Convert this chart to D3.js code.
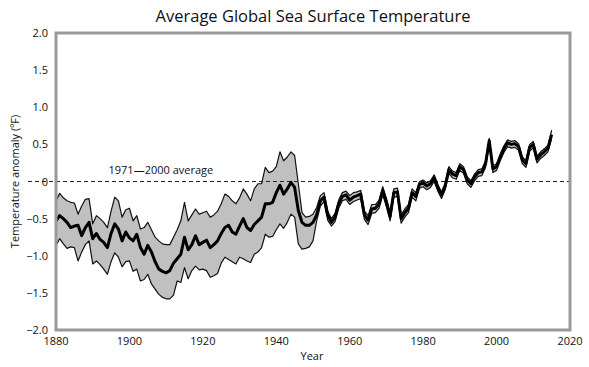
<!DOCTYPE html>
<html>
<head>
<meta charset="utf-8">
<script src="https://cdn.jsdelivr.net/npm/d3@7"></script>
<style>
  body { margin: 0; background: #fff; }
  text { font-family: "Open Sans", "Noto Sans", sans-serif; fill: #111; }
</style>
</head>
<body>
<div id="chart"></div>
<script>
// years 1880..2015, anomaly in degF relative to 1971-2000
const firstYear = 1880;

const center = [
  -0.53, -0.46, -0.50, -0.55, -0.62, -0.60, -0.59, -0.73, -0.62, -0.55,
  -0.77, -0.70, -0.78, -0.82, -0.89, -0.70, -0.57, -0.64, -0.80, -0.68,
  -0.76, -0.80, -0.71, -0.89, -0.98, -0.86, -0.95, -1.08, -1.18, -1.21,
  -1.23, -1.20, -1.10, -1.04, -0.98, -0.75, -0.92, -0.85, -0.73, -0.85,
  -0.82, -0.79, -0.89, -0.85, -0.80, -0.70, -0.62, -0.59, -0.68, -0.71,
  -0.60, -0.50, -0.62, -0.66, -0.58, -0.53, -0.48, -0.30, -0.30, -0.28,
  -0.15, -0.05, -0.17, -0.10, -0.01, -0.08, -0.39, -0.55, -0.59, -0.59,
  -0.55, -0.45, -0.26, -0.21, -0.45, -0.55, -0.48, -0.30, -0.20, -0.18,
  -0.25, -0.21, -0.19, -0.17, -0.45, -0.52, -0.37, -0.36, -0.30, -0.12,
  -0.28, -0.47, -0.15, -0.14, -0.50, -0.42, -0.36, -0.15, -0.20, -0.04,
  -0.02, -0.06, -0.03, 0.05, -0.08, -0.18, -0.06, 0.16, 0.10, 0.08,
  0.20, 0.16, 0.02, -0.03, 0.06, 0.12, 0.13, 0.24, 0.55, 0.17,
  0.20, 0.33, 0.44, 0.52, 0.50, 0.51, 0.47, 0.29, 0.24, 0.46,
  0.50, 0.30, 0.36, 0.40, 0.45, 0.63
];

const upper = [
  -0.26, -0.16, -0.22, -0.26, -0.28, -0.29, -0.44, -0.33, -0.24, -0.23,
  -0.57, -0.46, -0.50, -0.55, -0.62, -0.40, -0.21, -0.26, -0.48, -0.38,
  -0.36, -0.53, -0.46, -0.64, -0.62, -0.55, -0.65, -0.75, -0.80, -0.84,
  -0.85, -0.85, -0.75, -0.65, -0.53, -0.28, -0.53, -0.45, -0.37, -0.44,
  -0.42, -0.40, -0.48, -0.45, -0.40, -0.30, -0.17, -0.20, -0.26, -0.30,
  -0.22, -0.10, -0.17, -0.26, -0.10, -0.03, -0.03, 0.19, 0.12, 0.14,
  0.20, 0.40, 0.28, 0.33, 0.40, 0.35, -0.03, -0.42, -0.48, -0.47,
  -0.44, -0.35, -0.19, -0.15, -0.40, -0.50, -0.43, -0.25, -0.15, -0.13,
  -0.19, -0.15, -0.14, -0.12, -0.40, -0.46, -0.31, -0.31, -0.25, -0.07,
  -0.23, -0.42, -0.10, -0.09, -0.45, -0.37, -0.31, -0.10, -0.15, 0.00,
  0.02, -0.02, 0.01, 0.09, -0.04, -0.14, -0.02, 0.20, 0.14, 0.12,
  0.24, 0.20, 0.06, 0.01, 0.10, 0.16, 0.17, 0.28, 0.58, 0.21,
  0.24, 0.37, 0.48, 0.56, 0.54, 0.55, 0.51, 0.33, 0.28, 0.50,
  0.54, 0.34, 0.40, 0.44, 0.49, 0.69
];

const lower = [
  -0.86, -0.77, -0.84, -0.90, -0.88, -0.89, -1.07, -0.95, -0.85, -0.80,
  -1.11, -1.07, -1.12, -1.18, -1.25, -1.08, -0.96, -1.02, -1.15, -1.08,
  -1.07, -1.21, -1.18, -1.34, -1.32, -1.25, -1.38, -1.45, -1.52, -1.56,
  -1.58, -1.58, -1.53, -1.34, -1.36, -1.16, -1.31, -1.20, -1.14, -1.19,
  -1.18, -1.20, -1.29, -1.27, -1.24, -1.10, -1.02, -1.05, -1.08, -1.11,
  -1.02, -1.04, -1.07, -1.09, -0.98, -0.95, -0.89, -0.71, -0.75, -0.74,
  -0.65, -0.57, -0.63, -0.55, -0.44, -0.48, -0.84, -0.91, -0.90, -0.88,
  -0.80, -0.53, -0.33, -0.27, -0.52, -0.60, -0.54, -0.36, -0.26, -0.24,
  -0.31, -0.27, -0.25, -0.23, -0.51, -0.58, -0.43, -0.42, -0.36, -0.18,
  -0.34, -0.53, -0.21, -0.20, -0.56, -0.48, -0.42, -0.21, -0.26, -0.09,
  -0.07, -0.11, -0.08, 0.00, -0.13, -0.23, -0.11, 0.11, 0.05, 0.03,
  0.15, 0.11, -0.03, -0.08, 0.01, 0.07, 0.08, 0.19, 0.50, 0.12,
  0.15, 0.28, 0.39, 0.47, 0.45, 0.46, 0.42, 0.24, 0.19, 0.41,
  0.45, 0.25, 0.31, 0.35, 0.40, 0.58
];

const yTicks = [2.0, 1.5, 1.0, 0.5, 0, -0.5, -1.0, -1.5, -2.0];
const yTickLabels = ["2.0", "1.5", "1.0", "0.5", "0", "\u22120.5", "\u22121.0", "\u22121.5", "\u22122.0"];
const xTicks = [1880, 1900, 1920, 1940, 1960, 1980, 2000, 2020];

const data = center.map(function (c, i) {
  return { year: firstYear + i, mid: c, hi: upper[i], lo: lower[i] };
});

const width = 589, height = 367;
const margin = { top: 33, right: 19, bottom: 37, left: 56 };

const svg = d3.select("#chart").append("svg")
  .attr("width", width)
  .attr("height", height);

const x = d3.scaleLinear().domain([1880, 2020]).range([margin.left, width - margin.right]);
const y = d3.scaleLinear().domain([-2, 2]).range([height - margin.bottom, margin.top]);

// title
svg.append("text")
  .attr("x", 313).attr("y", 22)
  .attr("text-anchor", "middle")
  .style("font-size", "16.5px")
  .text("Average Global Sea Surface Temperature");

// uncertainty band
svg.append("path")
  .datum(data)
  .attr("fill", "#c0c0c0")
  .attr("d", d3.area()
    .x(function (d) { return x(d.year); })
    .y0(function (d) { return y(d.lo); })
    .y1(function (d) { return y(d.hi); }));

["hi", "lo"].forEach(function (k) {
  svg.append("path")
    .datum(data)
    .attr("fill", "none")
    .attr("stroke", "#111")
    .attr("stroke-width", 1.2)
    .attr("stroke-linejoin", "round")
    .attr("d", d3.line()
      .x(function (d) { return x(d.year); })
      .y(function (d) { return y(d[k]); }));
});

// 1971-2000 average reference line
svg.append("line")
  .attr("x1", 28).attr("x2", x(2020))
  .attr("y1", y(0)).attr("y2", y(0))
  .attr("stroke", "#222")
  .attr("stroke-width", 1)
  .attr("stroke-dasharray", "4,3");

svg.append("text")
  .attr("x", x(1894.3)).attr("y", y(0) - 8)
  .style("font-size", "11px")
  .text("1971\u20142000 average");

// central estimate
svg.append("path")
  .datum(data)
  .attr("fill", "none")
  .attr("stroke", "#000")
  .attr("stroke-width", 3)
  .attr("stroke-linejoin", "round")
  .attr("d", d3.line()
    .x(function (d) { return x(d.year); })
    .y(function (d) { return y(d.mid); }));

// frame
svg.append("rect")
  .attr("x", x(1880)).attr("y", y(2))
  .attr("width", x(2020) - x(1880))
  .attr("height", y(-2) - y(2))
  .attr("fill", "none")
  .attr("stroke", "#999")
  .attr("stroke-width", 3);

// y tick labels
svg.selectAll(".ylab")
  .data(yTicks)
  .enter().append("text")
  .attr("class", "ylab")
  .attr("x", 48)
  .attr("y", function (d) { return y(d) + 4; })
  .attr("text-anchor", "end")
  .style("font-size", "11px")
  .text(function (d, i) { return yTickLabels[i]; });

// x tick labels
svg.selectAll(".xlab")
  .data(xTicks)
  .enter().append("text")
  .attr("class", "xlab")
  .attr("x", function (d) { return x(d); })
  .attr("y", 345)
  .attr("text-anchor", "middle")
  .style("font-size", "11px")
  .text(function (d) { return d; });

svg.append("text")
  .attr("x", 312).attr("y", 360)
  .attr("text-anchor", "middle")
  .style("font-size", "11px")
  .text("Year");

svg.append("text")
  .attr("transform", "translate(19," + y(0) + ") rotate(-90)")
  .attr("text-anchor", "middle")
  .style("font-size", "11px")
  .text("Temperature anomaly (\u00baF)");
</script>
</body>
</html>
